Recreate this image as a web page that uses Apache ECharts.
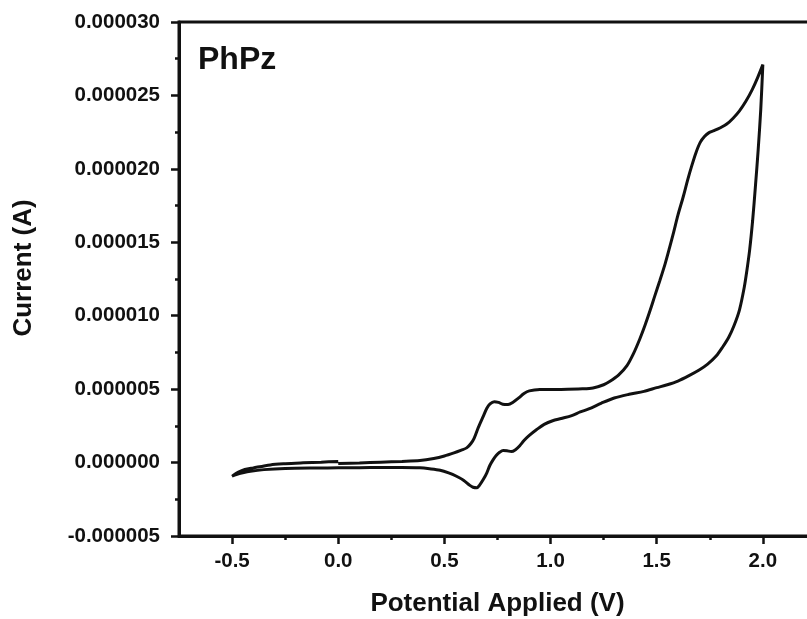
<!DOCTYPE html>
<html>
<head>
<meta charset="utf-8">
<script src="https://cdn.jsdelivr.net/npm/echarts@6/dist/echarts.min.js"></script>
<style>
  html, body { margin: 0; padding: 0; background: #fff; }
  #chart { width: 807px; height: 619px; }
</style>
</head>
<body>
<div id="chart"></div>
<script>
// Cyclic voltammogram of PhPz: potential (V) vs current (µA, converted to A)

// Anodic sweep 0 V -> 2.0 V
const forwardPotential = [0.00, 0.10, 0.20, 0.30, 0.385, 0.45, 0.50, 0.545, 0.58, 0.605, 0.625, 0.64, 0.66, 0.683, 0.70, 0.715, 0.735, 0.755, 0.775, 0.80, 0.825, 0.85, 0.875, 0.90, 0.95, 1.05, 1.15, 1.20, 1.25, 1.28, 1.32, 1.36, 1.39, 1.42, 1.445, 1.47, 1.49, 1.515, 1.54, 1.56, 1.58, 1.60, 1.625, 1.645, 1.665, 1.685, 1.705, 1.725, 1.745, 1.77, 1.80, 1.83, 1.86, 1.89, 1.92, 1.95, 1.975, 2.00];
const forwardCurrentMicroA = [-0.07, -0.03, 0.03, 0.08, 0.14, 0.28, 0.45, 0.66, 0.85, 1.0, 1.3, 1.65, 2.4, 3.15, 3.7, 4.0, 4.15, 4.1, 3.97, 3.95, 4.12, 4.4, 4.7, 4.88, 4.97, 4.98, 5.02, 5.08, 5.3, 5.53, 5.95, 6.6, 7.4, 8.4, 9.35, 10.4, 11.3, 12.4, 13.55, 14.6, 15.7, 16.85, 18.1, 19.2, 20.2, 21.1, 21.8, 22.2, 22.45, 22.6, 22.8, 23.05, 23.45, 23.95, 24.6, 25.4, 26.2, 27.1];

// Cathodic sweep 2.0 V -> -0.5 V
const reversePotential = [1.99, 1.978, 1.965, 1.952, 1.938, 1.925, 1.912, 1.89, 1.865, 1.84, 1.81, 1.78, 1.74, 1.70, 1.65, 1.60, 1.55, 1.50, 1.44, 1.37, 1.30, 1.24, 1.18, 1.14, 1.10, 1.05, 1.01, 0.97, 0.935, 0.90, 0.875, 0.855, 0.835, 0.815, 0.795, 0.777, 0.76, 0.745, 0.73, 0.714, 0.70, 0.683, 0.665, 0.652, 0.635, 0.62, 0.59, 0.557, 0.52, 0.48, 0.43, 0.385, 0.30, 0.20, 0.10, 0.00, -0.10, -0.25, -0.35, -0.414, -0.45, -0.48, -0.50];
const reverseCurrentMicroA = [24.0, 21.3, 18.8, 16.5, 14.5, 13.1, 11.9, 10.4, 9.35, 8.55, 7.85, 7.25, 6.7, 6.3, 5.9, 5.55, 5.3, 5.1, 4.85, 4.65, 4.4, 4.05, 3.65, 3.45, 3.2, 3.0, 2.85, 2.6, 2.25, 1.85, 1.5, 1.15, 0.88, 0.75, 0.8, 0.82, 0.7, 0.5, 0.2, -0.2, -0.7, -1.16, -1.55, -1.72, -1.68, -1.55, -1.2, -0.93, -0.7, -0.52, -0.42, -0.36, -0.34, -0.34, -0.35, -0.36, -0.37, -0.40, -0.48, -0.59, -0.70, -0.82, -0.93];

// Return sweep -0.5 V -> 0 V
const returnPotential = [-0.47, -0.44, -0.40, -0.32, -0.25, -0.165, -0.08, 0.00];
const returnCurrentMicroA = [-0.65, -0.47, -0.36, -0.16, -0.08, -0.02, 0.03, 0.08];

// Axis ticks
const xMajorTicks = [-0.5, 0.0, 0.5, 1.0, 1.5, 2.0];
const xMinorTicks = [-0.25, 0.25, 0.75, 1.25, 1.75, 2.25];
const yMin = -0.000005, yMax = 0.000030, yStep = 0.000005;

const potential = forwardPotential.concat(reversePotential, returnPotential);
const currentMicroA = forwardCurrentMicroA.concat(reverseCurrentMicroA, returnCurrentMicroA);
const cvData = potential.map((v, i) => [v, currentMicroA[i] * 1e-6]);

const FONT = '"Liberation Sans", Arial, sans-serif';
const labelStyle = { color: '#111', fontFamily: FONT, fontWeight: 'bold', fontSize: 20.5 };

const chart = echarts.init(document.getElementById('chart'), null, { renderer: 'canvas' });
chart.setOption({
  backgroundColor: '#fff',
  animation: false,
  grid: {
    left: 179, top: 22, width: 690, height: 514,
    outerBoundsMode: 'none', containLabel: false,
    show: true, borderColor: '#111', borderWidth: 3, backgroundColor: 'transparent'
  },
  xAxis: [
    {
      type: 'value', min: -0.75, max: 2.5,
      axisLine: { onZero: false, lineStyle: { color: '#111', width: 3 } },
      axisTick: { show: true, inside: false, length: 8, customValues: xMajorTicks, lineStyle: { color: '#111', width: 2.5 } },
      axisLabel: { customValues: xMajorTicks, margin: 15, formatter: v => v.toFixed(1), ...labelStyle },
      splitLine: { show: false }
    },
    {
      type: 'value', min: -0.75, max: 2.5, position: 'bottom',
      axisLine: { show: false, onZero: false },
      axisTick: { show: true, inside: false, length: 4, customValues: xMinorTicks, lineStyle: { color: '#111', width: 2.5 } },
      axisLabel: { show: false },
      splitLine: { show: false }
    }
  ],
  yAxis: {
    type: 'value', min: yMin, max: yMax, interval: yStep,
    axisLine: { show: true, onZero: false, lineStyle: { color: '#111', width: 3 } },
    axisTick: { show: true, inside: false, length: 8, lineStyle: { color: '#111', width: 2.5 } },
    minorTick: { show: true, splitNumber: 2, length: 4, lineStyle: { color: '#111', width: 2.5 } },
    axisLabel: { margin: 19, formatter: v => v.toFixed(6), ...labelStyle },
    splitLine: { show: false }
  },
  series: [{
    type: 'line',
    xAxisIndex: 0,
    data: cvData,
    showSymbol: false,
    smooth: 0.3,
    lineStyle: { color: '#111', width: 3 }
  }],
  graphic: [
    {
      type: 'text', left: 198, top: 44,
      style: { text: 'PhPz', fill: '#111', font: 'bold 32px ' + FONT }
    },
    {
      type: 'text', x: 497.5, y: 604,
      style: { text: 'Potential Applied (V)', fill: '#111', font: 'bold 26px ' + FONT, align: 'center', verticalAlign: 'middle' }
    },
    {
      type: 'text', x: 24, y: 268, rotation: Math.PI / 2,
      style: { text: 'Current (A)', fill: '#111', font: 'bold 26px ' + FONT, align: 'center', verticalAlign: 'middle' }
    }
  ]
});
</script>
</body>
</html>
